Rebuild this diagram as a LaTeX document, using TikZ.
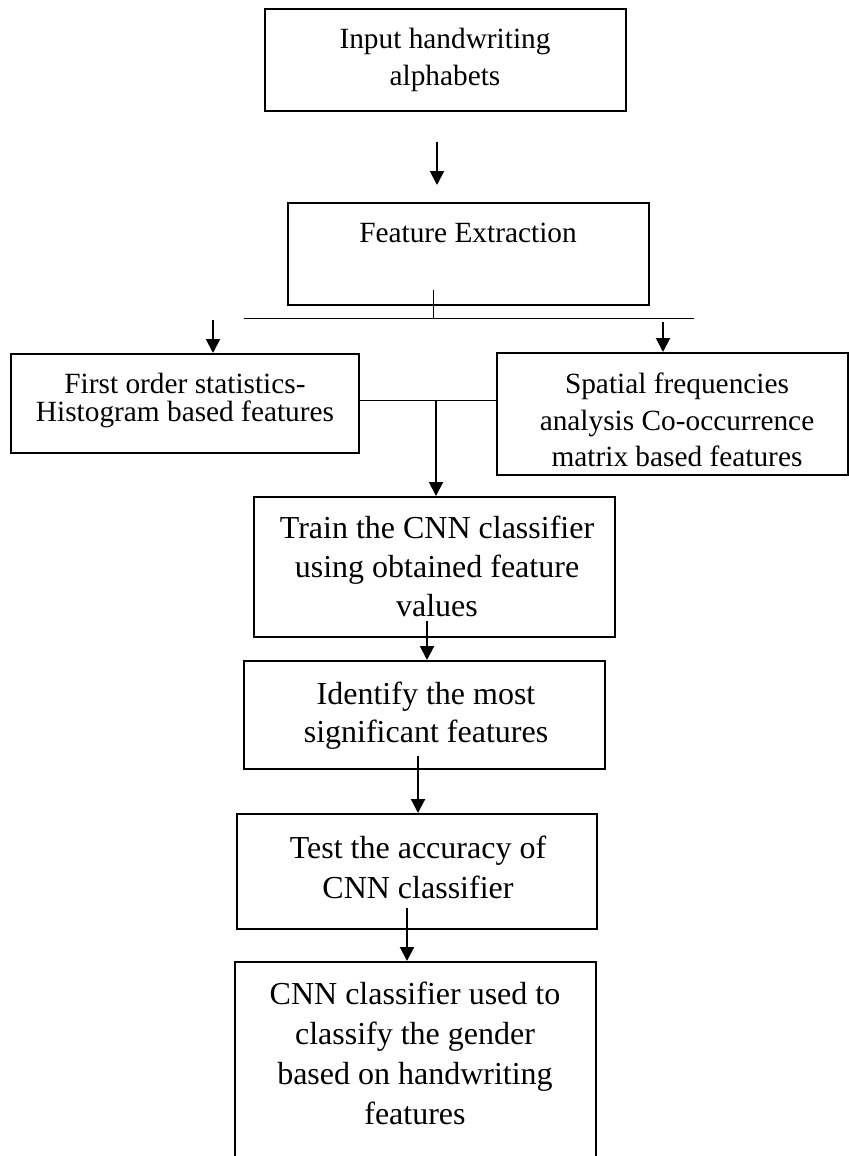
\documentclass[tikz,border=0pt]{standalone}
\usepackage{fontspec}
\setmainfont{Liberation Serif}
\usetikzlibrary{arrows.meta,fit}
\tikzset{
  box/.style={draw=black, line width=1.5pt, inner sep=0pt},
  txt/.style={align=center, inner sep=0pt, anchor=north, text=black},
  arr/.style={line width=1.5pt, -{Triangle[length=10.5pt,width=10.5pt]}},
  rule/.style={line width=0.75pt},
}
\begin{document}
\begin{tikzpicture}[x=0.75pt,y=-0.75pt]
  \useasboundingbox (0,0) rectangle (849,1156);

  % Boxes of the flow, fitted to their corners.
  \node[box, fit={(265,9) (626,111)}] (input) {};
  \node[box, fit={(288,203) (649,305)}] (fext) {};
  \node[box, fit={(11,354) (359,453)}] (stat) {};
  \node[box, fit={(497,353) (848,475)}] (spat) {};
  \node[box, fit={(254,497) (615,637)}] (train) {};
  \node[box, fit={(244,661) (605,769)}] (ident) {};
  \node[box, fit={(237,814) (597,929)}] (test) {};
  \node[box, fit={(235,962) (596,1180)}] (gender) {};

  % Texts of the boxes.
  \node[txt, font=\fontsize{22}{27.5}\selectfont] (input-t) at (445,28)
    {Input handwriting\\alphabets};
  \node[txt, font=\fontsize{22}{27.5}\selectfont] (fext-t) at (468,223)
    {Feature Extraction};
  \node[txt, font=\fontsize{22}{21}\selectfont] (stat-t) at (185,373)
    {First order statistics-\\Histogram based features};
  \node[txt, font=\fontsize{22}{27.4}\selectfont] (spat-t) at (677,373)
    {Spatial frequencies\\analysis Co-occurrence\\matrix based features};
  \node[txt, font=\fontsize{24}{29.3}\selectfont] (train-t) at (437,516)
    {Train the CNN classifier\\using obtained feature\\values};
  \node[txt, font=\fontsize{24}{28.5}\selectfont] (ident-t) at (426,682)
    {Identify the most\\significant features};
  \node[txt, font=\fontsize{24}{30}\selectfont] (test-t) at (418,836)
    {Test the accuracy of\\CNN classifier};
  \node[txt, font=\fontsize{24}{30}\selectfont] (gender-t) at (415,982)
    {CNN classifier used to\\classify the gender\\based on handwriting\\features};

  % Connectors.
  \coordinate (a1s) at (437,142);
  \coordinate (a1e) at (437,185);
  \draw[arr] (a1s) -- (a1e);

  \coordinate (tick) at (433,290);
  \coordinate (splitL) at (244,318);
  \coordinate (splitR) at (694,318);
  \draw[rule] (splitL) -- (splitR);
  \draw[rule] (tick) -- (tick |- splitL);

  \coordinate (toStat) at (213,320);
  \coordinate (toSpat) at (663,322);
  \draw[arr] (toStat) -- (toStat |- stat.north);
  \draw[arr] (toSpat) -- (toSpat |- spat.north);

  \coordinate (join) at (436,400);
  \draw[rule] (stat.east |- join) -- (spat.west |- join);
  \draw[arr] (join) -- (join |- train.north);

  \coordinate (fromTrain) at (427,621);
  \draw[arr] (fromTrain) -- (fromTrain |- ident.north);
  \coordinate (fromIdent) at (418,756);
  \draw[arr] (fromIdent) -- (fromIdent |- test.north);
  \coordinate (fromTest) at (407,908);
  \draw[arr] (fromTest) -- (fromTest |- gender.north);
\end{tikzpicture}
\end{document}
